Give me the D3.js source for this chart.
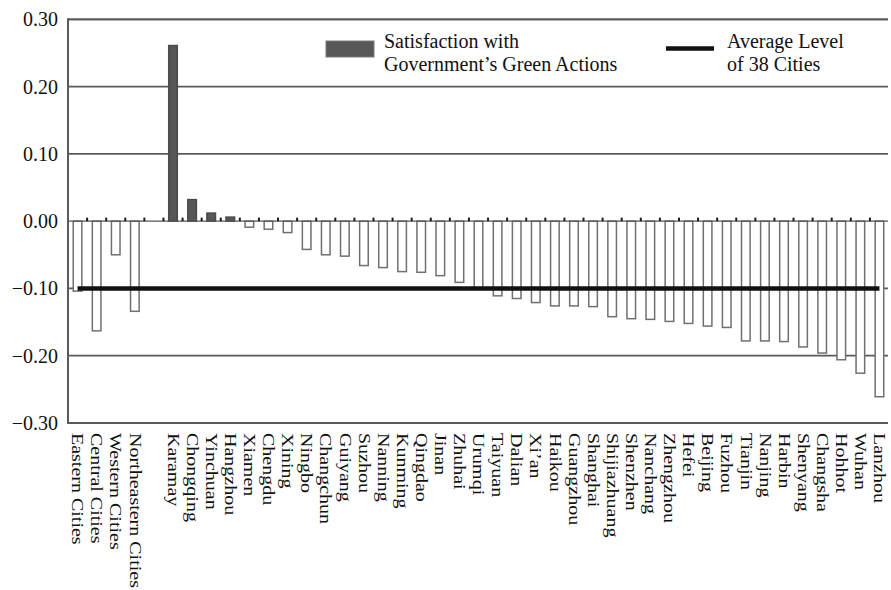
<!DOCTYPE html>
<html>
<head>
<meta charset="utf-8">
<script src="https://cdn.jsdelivr.net/npm/d3@7"></script>
<style>
  html, body { margin: 0; padding: 0; background: #fff; }
  svg { display: block; }
  svg text { font-family: "Liberation Serif", "DejaVu Serif", serif; }
</style>
</head>
<body>
<svg id="chart" width="891" height="590"></svg>
<script>
// Regional groups, a spacer slot, then the 38 cities ranked by satisfaction
const categories = [
  "Eastern Cities", "Central Cities", "Western Cities", "Northeastern Cities", "",
  "Karamay", "Chongqing", "Yinchuan", "Hangzhou", "Xiamen", "Chengdu", "Xining",
  "Ningbo", "Changchun", "Guiyang", "Suzhou", "Nanning", "Kunming", "Qingdao",
  "Jinan", "Zhuhai", "Urumqi", "Taiyuan", "Dalian", "Xi’an", "Haikou",
  "Guangzhou", "Shanghai", "Shijiazhuang", "Shenzhen", "Nanchang", "Zhengzhou",
  "Hefei", "Beijing", "Fuzhou", "Tianjin", "Nanjing", "Harbin", "Shenyang",
  "Changsha", "Hohhot", "Wuhan", "Lanzhou"
];

// Satisfaction with government's green actions (null = spacer)
const satisfaction = [
  -0.104, -0.163, -0.050, -0.134, null,
  0.261, 0.032, 0.012, 0.006, -0.009, -0.012, -0.017,
  -0.042, -0.050, -0.052, -0.066, -0.069, -0.075, -0.076,
  -0.081, -0.091, -0.100, -0.111, -0.115, -0.121, -0.126,
  -0.126, -0.127, -0.142, -0.145, -0.146, -0.149,
  -0.152, -0.156, -0.158, -0.178, -0.178, -0.179, -0.187,
  -0.196, -0.206, -0.226, -0.261
];

// Average level of the 38 cities
const averageLevel = -0.100;

const yTickValues = [0.30, 0.20, 0.10, 0.00, -0.10, -0.20, -0.30];
const yTickLabels = ["0.30", "0.20", "0.10", "0.00", "\u22120.10", "\u22120.20", "\u22120.30"];

const legendBarText = ["Satisfaction with", "Government’s Green Actions"];
const legendLineText = ["Average Level", "of 38 Cities"];

const FONT = "'Liberation Serif', 'Times New Roman', serif";

const svg = d3.select("#chart");
const plotLeft = 68, plotRight = 889, plotTop = 19.3, plotBottom = 423;

const x = d3.scaleBand()
  .domain(d3.range(categories.length))
  .range([plotLeft, plotRight])
  .paddingInner(0.55)
  .paddingOuter(0.275);

const y = d3.scaleLinear().domain([-0.30, 0.30]).range([plotBottom, plotTop]);

const gridColor = "#5a5a5a";

// Horizontal gridlines
svg.append("g")
  .selectAll("line")
  .data(yTickValues.filter(v => v !== 0 && v !== -0.30))
  .join("line")
  .attr("x1", plotLeft).attr("x2", plotRight - 1)
  .attr("y1", d => y(d)).attr("y2", d => y(d))
  .attr("stroke", gridColor)
  .attr("stroke-width", 1.8);

// Bars: filled when positive, hollow when negative
const barData = satisfaction.map((v, i) => ({ i, v })).filter(d => d.v !== null);
svg.append("g")
  .selectAll("rect")
  .data(barData)
  .join("rect")
  .attr("x", d => x(d.i))
  .attr("width", x.bandwidth())
  .attr("y", d => y(Math.max(0, d.v)))
  .attr("height", d => Math.abs(y(d.v) - y(0)))
  .attr("fill", d => d.v >= 0 ? "#575757" : "#ffffff")
  .attr("stroke", d => d.v >= 0 ? "#4a4a4a" : "#707070")
  .attr("stroke-width", 1.5);

// Zero line (category axis)
svg.append("line")
  .attr("x1", plotLeft).attr("x2", plotRight - 1)
  .attr("y1", y(0)).attr("y2", y(0))
  .attr("stroke", "#555")
  .attr("stroke-width", 1.4);

// Tick marks between categories on the zero line
const step = x.step();
svg.append("g")
  .selectAll("line")
  .data(d3.range(1, categories.length))
  .join("line")
  .attr("x1", i => x.range()[0] + i * step)
  .attr("x2", i => x.range()[0] + i * step)
  .attr("y1", y(0) - 3.5)
  .attr("y2", y(0))
  .attr("stroke", "#1a1a1a")
  .attr("stroke-width", 2);

// Average level line
const avgLine = d3.line().x(d => d[0]).y(d => y(d[1]));
svg.append("path")
  .attr("d", avgLine([
    [x(0) + x.bandwidth() / 2, averageLevel],
    [x(categories.length - 1) + x.bandwidth() / 2, averageLevel]
  ]))
  .attr("stroke", "#111")
  .attr("stroke-width", 4.5)
  .attr("fill", "none");

// Left, bottom and top frame lines
svg.append("line")
  .attr("x1", plotLeft).attr("x2", plotLeft)
  .attr("y1", plotTop - 1).attr("y2", plotBottom + 1)
  .attr("stroke", gridColor).attr("stroke-width", 2);
svg.append("line")
  .attr("x1", plotLeft).attr("x2", plotRight - 1)
  .attr("y1", plotBottom).attr("y2", plotBottom)
  .attr("stroke", gridColor).attr("stroke-width", 2);
svg.append("line")
  .attr("x1", plotLeft).attr("x2", plotRight - 1)
  .attr("y1", plotTop).attr("y2", plotTop)
  .attr("stroke", gridColor).attr("stroke-width", 1.8);

// Y tick labels
svg.append("g")
  .selectAll("text")
  .data(yTickValues)
  .join("text")
  .attr("x", 58)
  .attr("y", d => y(d))
  .attr("dy", "0.35em")
  .attr("text-anchor", "end")
  .attr("font-family", FONT)
  .attr("font-size", 20)
  .attr("fill", "#111")
  .text((d, i) => yTickLabels[i]);

// Rotated category labels
svg.append("g")
  .selectAll("text")
  .data(categories)
  .join("text")
  .attr("transform", (d, i) =>
    `translate(${x(i) + x.bandwidth() / 2},433) rotate(90) scale(1,0.8)`)
  .attr("dy", "0.33em")
  .attr("font-family", FONT)
  .attr("font-size", 20)
  .attr("fill", "#111")
  .text(d => d);

// Legend
const legend = svg.append("g");
legend.append("rect")
  .attr("x", 326).attr("y", 41).attr("width", 48).attr("height", 16)
  .attr("fill", "#585858").attr("stroke", "#7a7a7a").attr("stroke-width", 1);
legend.append("g")
  .selectAll("text")
  .data(legendBarText)
  .join("text")
  .attr("x", 384)
  .attr("y", (d, i) => 48.3 + i * 22.7)
  .attr("font-family", FONT)
  .attr("font-size", 20)
  .attr("fill", "#111")
  .text(d => d);

legend.append("line")
  .attr("x1", 666).attr("x2", 714)
  .attr("y1", 48.5).attr("y2", 48.5)
  .attr("stroke", "#111").attr("stroke-width", 4.5);
legend.append("g")
  .selectAll("text")
  .data(legendLineText)
  .join("text")
  .attr("x", 727)
  .attr("y", (d, i) => 48.3 + i * 22.7)
  .attr("font-family", FONT)
  .attr("font-size", 20)
  .attr("fill", "#111")
  .text(d => d);
</script>
</body>
</html>
